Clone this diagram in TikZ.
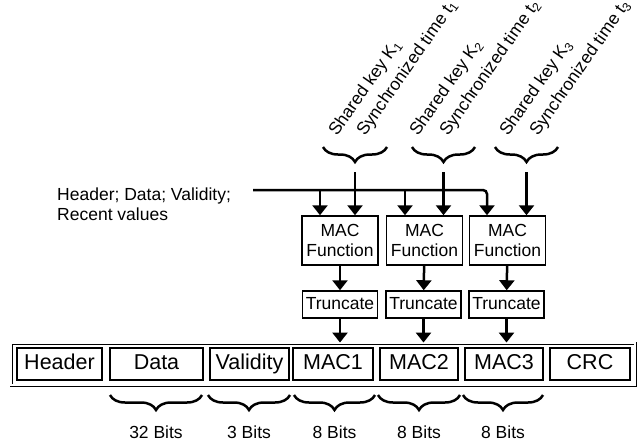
\documentclass[tikz,border=0pt]{standalone}
\usepackage{fontspec}
\setmainfont{Liberation Sans}
\usetikzlibrary{arrows.meta,decorations.pathreplacing}
\tikzset{
  fld/.style={draw, line width=1.5pt, minimum height=32pt, inner sep=0pt, text height=15.5pt, text depth=4pt, font=\fontsize{21.5}{24}\selectfont},
  macbox/.style={draw, line width=1.5pt, minimum width=76pt, minimum height=49pt, inner sep=0pt, align=center, font=\fontsize{17.5}{20}\selectfont},
  trbox/.style={draw, line width=1.5pt, minimum width=75pt, minimum height=27pt, inner sep=0pt, text height=12.5pt, text depth=3.5pt, font=\fontsize{17.5}{20}\selectfont},
  lbl/.style={inner sep=0pt, font=\fontsize{17.5}{20}\selectfont},
  keylbl/.style={lbl, rotate=55, anchor=base west},
  arr/.style={-{Triangle[width=15pt,length=10pt]}, line width=2.5pt},
  brc/.style={decorate, decoration={brace, amplitude=15pt, mirror}, line width=2.5pt},
}

\begin{document}
\begin{tikzpicture}[inner sep=0pt]
\useasboundingbox (0pt,0pt) rectangle (637pt,-442pt);
% message frame
\node (fr) [draw, line width=0.9pt, double, double distance=1.2pt, minimum width=624pt, minimum height=42pt, at={(323pt,-364pt)}] {};
\node (f0) [fld, minimum width=85pt, at={(59.5pt,-364pt)}] {Header};
\node (f1) [fld, minimum width=93pt, at={(156.5pt,-364pt)}] {Data};
\node (f2) [fld, minimum width=79pt, at={(249.5pt,-364pt)}] {Validity};
\node (f3) [fld, minimum width=80pt, at={(333pt,-364pt)}] {MAC1};
\node (f4) [fld, minimum width=78pt, at={(419pt,-364pt)}] {MAC2};
\node (f5) [fld, minimum width=78pt, at={(504pt,-364pt)}] {MAC3};
\node (f6) [fld, minimum width=80pt, at={(590pt,-364pt)}] {CRC};
% MAC and truncate blocks
\node (m1) [macbox, at={(340pt,-240.5pt)}] {MAC\\Function};
\node (m2) [macbox, at={(424.5pt,-240.5pt)}] {MAC\\Function};
\node (m3) [macbox, at={(507.5pt,-240.5pt)}] {MAC\\Function};
\node (t1) [trbox, at={(340pt,-304.5pt)}] {Truncate};
\node (t2) [trbox, at={(423.5pt,-304.5pt)}] {Truncate};
\node (t3) [trbox, at={(506.5pt,-304.5pt)}] {Truncate};
% inputs
\node (in) [lbl, align=left, anchor=base west, at={(57pt,-220pt)}] {Header; Data; Validity;\\Recent values};
\node (s1) [keylbl, at={(337pt,-137pt)}] {Shared key K\textsubscript{1}};
\node (y1) [keylbl, at={(365pt,-137pt)}] {Synchronized time t\textsubscript{1}};
\node (s2) [keylbl, at={(418pt,-137pt)}] {Shared key K\textsubscript{2}};
\node (y2) [keylbl, at={(448pt,-137pt)}] {Synchronized time t\textsubscript{2}};
\node (s3) [keylbl, at={(508pt,-137pt)}] {Shared key K\textsubscript{3}};
\node (y3) [keylbl, at={(538pt,-137pt)}] {Synchronized time t\textsubscript{3}};
\coordinate (d0) at (253pt,-190pt);
\coordinate (d1) at (320pt,-190pt);
\coordinate (d2) at (405pt,-190pt);
\coordinate (d3) at (487pt,-190pt);
\coordinate (k1) at (355pt,-172pt);
\coordinate (k2) at (443.5pt,-172pt);
\coordinate (k3) at (526.5pt,-172pt);
% braces over the keys
\path [brc, draw](323pt,-147pt)--(387pt,-147pt);
\path [brc, draw](412pt,-147pt)--(475pt,-147pt);
\path [brc, draw](495pt,-147pt)--(558pt,-147pt);
% bit widths
\path [brc, draw](110pt,-395pt)--(202pt,-395pt) node (b1) [lbl, midway, below=30pt] {32 Bits};
\path [brc, draw](208pt,-395pt)--(290pt,-395pt) node (b2) [lbl, midway, below=30pt] {3 Bits};
\path [brc, draw](294pt,-395pt)--(375pt,-395pt) node (b3) [lbl, midway, below=30pt] {8 Bits};
\path [brc, draw](378pt,-395pt)--(460pt,-395pt) node (b4) [lbl, midway, below=30pt] {8 Bits};
\path [brc, draw](463pt,-395pt)--(543pt,-395pt) node (b5) [lbl, midway, below=30pt] {8 Bits};
% arrows
\path [arr, rounded corners=4pt, draw](d0)--(d3)--(d3 |- m3.north);
\path [arr, draw](d1)--(d1 |- m1.north);
\path [arr, draw](d2)--(d2 |- m2.north);
\path [arr, draw](k1)--(k1 |- m1.north);
\path [arr, draw](k2)--(k2 |- m2.north);
\path [arr, draw](k3)--(k3 |- m3.north);
\path [arr, draw](m1)--(t1);
\path [arr, draw](m2)--(t2);
\path [arr, draw](m3)--(t3);
\path [arr, draw](t1)--(t1 |- fr.north);
\path [arr, draw](t2)--(t2 |- fr.north);
\path [arr, draw](t3)--(t3 |- fr.north);
\end{tikzpicture}
\end{document}
